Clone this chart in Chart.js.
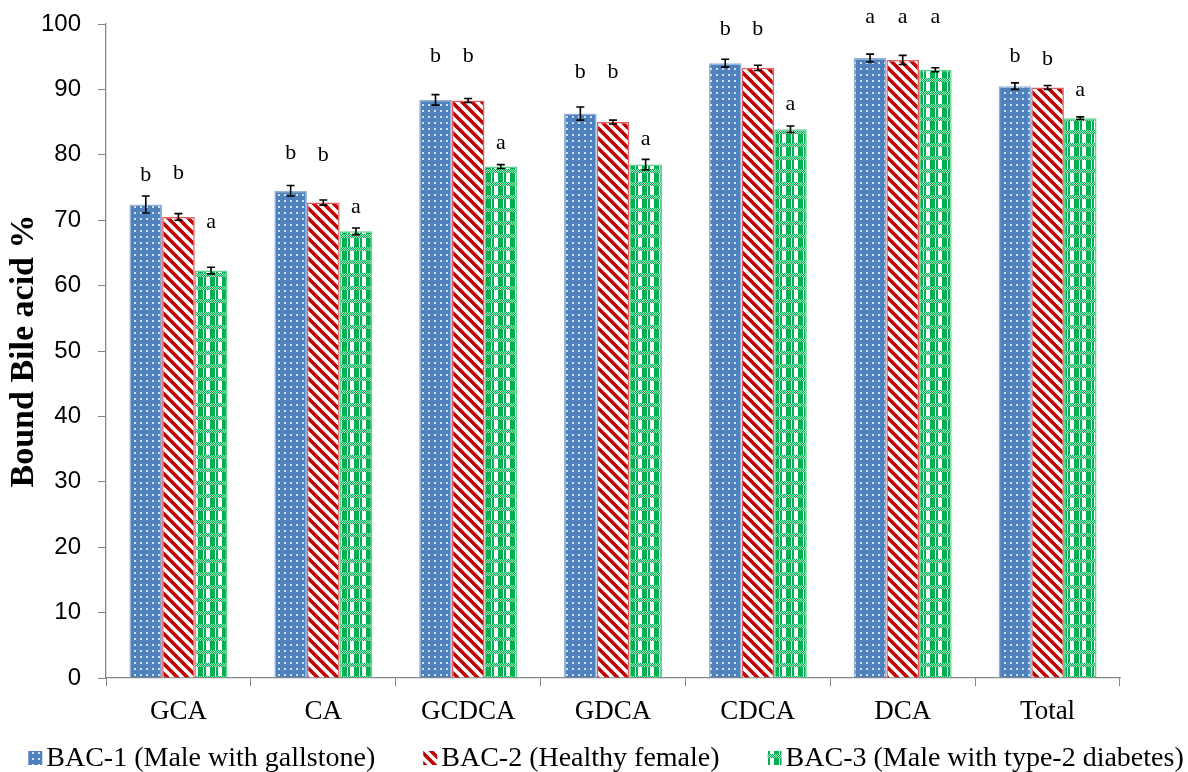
<!DOCTYPE html>
<html>
<head>
<meta charset="utf-8">
<script src="https://cdn.jsdelivr.net/npm/chart.js@4.4.0/dist/chart.umd.min.js"></script>
<style>
  html, body { margin: 0; padding: 0; background: #fff; }
  #wrap { width: 1188px; height: 772px; position: relative; }
</style>
</head>
<body>
<div id="wrap"><canvas id="myChart" width="1188" height="772"></canvas></div>
<script>
// categories and series
var categories = ['GCA', 'CA', 'GCDCA', 'GDCA', 'CDCA', 'DCA', 'Total'];
var seriesNames = ['BAC-1 (Male with gallstone)', 'BAC-2 (Healthy female)', 'BAC-3 (Male with type-2 diabetes)'];
var bac1 = [72.4, 74.5, 88.4, 86.3, 94.0, 94.8, 90.5];
var bac2 = [70.5, 72.7, 88.3, 85.0, 93.3, 94.5, 90.3];
var bac3 = [62.3, 68.3, 78.2, 78.5, 83.9, 93.0, 85.6];
// error bars (+/-)
var err1 = [1.3, 0.8, 0.8, 1.0, 0.6, 0.6, 0.5];
var err2 = [0.5, 0.4, 0.3, 0.3, 0.4, 0.7, 0.3];
var err3 = [0.5, 0.5, 0.3, 0.8, 0.5, 0.3, 0.2];
// significance letters and the height they sit at
var sig1 = ['b', 'b', 'b', 'b', 'b', 'a', 'b'];
var sig2 = ['b', 'b', 'b', 'b', 'b', 'a', 'b'];
var sig3 = ['a', 'a', 'a', 'a', 'a', 'a', 'a'];
var sigAt1 = [76.9, 80.3, 95.0, 92.7, 99.2, 101.1, 95.1];
var sigAt2 = [77.2, 80.0, 95.0, 92.7, 99.2, 101.1, 94.6];
var sigAt3 = [69.7, 72.0, 81.8, 82.4, 87.8, 101.1, 89.9];
var yTicks = [0, 10, 20, 30, 40, 50, 60, 70, 80, 90, 100];

var serif = '"Liberation Serif", "Times New Roman", serif';
var sans = '"Liberation Sans", Arial, sans-serif';

function makeTile(w, h, draw) {
  var c = document.createElement('canvas');
  c.width = w; c.height = h;
  draw(c.getContext('2d'));
  return c.getContext('2d').createPattern(c, 'repeat');
}

// blue with small light dots
var bluePat = makeTile(6, 6, function (g) {
  g.fillStyle = '#4f81bd'; g.fillRect(0, 0, 6, 6);
  g.fillStyle = 'rgba(225,235,248,0.9)'; g.fillRect(2, 2, 2, 2);
});
// white with red "\" stripes
var redPat = makeTile(10, 10, function (g) {
  g.fillStyle = '#ffffff'; g.fillRect(0, 0, 10, 10);
  g.strokeStyle = '#c00000'; g.lineWidth = 3.6;
  g.beginPath();
  g.moveTo(-5, -5); g.lineTo(15, 15);
  g.moveTo(-5, 5); g.lineTo(5, 15);
  g.moveTo(5, -5); g.lineTo(15, 5);
  g.stroke();
});
// green plaid: fine checker band, then white and green blocks
var greenPat = makeTile(12, 13, function (g) {
  g.fillStyle = '#ffffff'; g.fillRect(0, 0, 12, 13);
  g.fillStyle = 'rgba(0,176,80,0.35)';
  g.fillRect(0, 0, 12, 4);
  g.fillStyle = '#00b050';
  for (var y = 0; y < 4; y++) for (var x = 0; x < 12; x++) if ((x + y) % 2 === 0) g.fillRect(x, y, 1, 1);
  g.fillRect(0, 4, 2, 9);
  g.fillRect(6, 4, 5, 9);
});

var errs = [err1, err2, err3];
var sigs = [sig1, sig2, sig3];
var sigAt = [sigAt1, sigAt2, sigAt3];

var extras = {
  id: 'extras',
  afterDatasetsDraw: function (chart) {
    var ctx = chart.ctx, ys = chart.scales.y;
    ctx.save();
    chart.data.datasets.forEach(function (ds, i) {
      var meta = chart.getDatasetMeta(i);
      meta.data.forEach(function (bar, j) {
        var v = ds.data[j], e = errs[i][j];
        var t = ys.getPixelForValue(v + e), b = ys.getPixelForValue(v - e);
        ctx.strokeStyle = '#000'; ctx.lineWidth = 1.6;
        ctx.beginPath();
        ctx.moveTo(bar.x, t); ctx.lineTo(bar.x, b);
        ctx.moveTo(bar.x - 4, t); ctx.lineTo(bar.x + 4, t);
        ctx.moveTo(bar.x - 4, b); ctx.lineTo(bar.x + 4, b);
        ctx.stroke();
        ctx.fillStyle = '#000';
        ctx.font = '22px ' + serif;
        ctx.textAlign = 'center'; ctx.textBaseline = 'middle';
        ctx.fillText(sigs[i][j], bar.x, ys.getPixelForValue(sigAt[i][j]));
      });
    });
    ctx.restore();
  },
  afterDraw: function (chart) {
    // legend along the bottom
    var ctx = chart.ctx;
    ctx.save();
    ctx.font = '28px ' + serif;
    var box = 14, gapText = 4, gapItem = 48;
    var widths = seriesNames.map(function (s) { return box + gapText + ctx.measureText(s).width; });
    var total = widths.reduce(function (a, b) { return a + b; }, 0) + gapItem * 2;
    var x = 606 - total / 2, yc = 758;
    chart.data.datasets.forEach(function (ds, i) {
      ctx.fillStyle = ds.backgroundColor;
      ctx.fillRect(x, yc - box / 2, box, box);
      ctx.fillStyle = '#000';
      ctx.textAlign = 'left'; ctx.textBaseline = 'middle';
      ctx.fillText(seriesNames[i], x + box + gapText, yc + 1);
      x += widths[i] + gapItem;
    });
    ctx.restore();
  }
};

var ctx = document.getElementById('myChart');
var myChart = new Chart(ctx, {
  type: 'bar',
  data: {
    labels: categories,
    datasets: [
      { label: seriesNames[0], data: bac1, backgroundColor: bluePat, borderColor: '#95b3d7', borderWidth: 1.5 },
      { label: seriesNames[1], data: bac2, backgroundColor: redPat, borderColor: '#e06060', borderWidth: 1.5 },
      { label: seriesNames[2], data: bac3, backgroundColor: greenPat, borderColor: '#5fd08f', borderWidth: 1.5 }
    ]
  },
  options: {
    responsive: false,
    animation: false,
    layout: { padding: { top: 24, right: 68, bottom: 48, left: 0 } },
    datasets: { bar: { categoryPercentage: 0.676, barPercentage: 1.0 } },
    plugins: { legend: { display: false }, tooltip: { enabled: false } },
    scales: {
      x: {
        grid: { offset: true, drawOnChartArea: false, drawTicks: true, tickLength: 8, color: '#868686' },
        border: { color: '#868686', width: 1.3 },
        ticks: { color: '#000', font: { family: serif, size: 27 }, padding: 10 },
        afterFit: function (s) { s.height = 772 - 48 - 678; s.paddingLeft = 0; s.paddingRight = 0; }
      },
      y: {
        min: 0, max: 100,
        afterBuildTicks: function (s) { s.ticks = yTicks.map(function (v) { return { value: v }; }); },
        grid: { drawOnChartArea: false, drawTicks: true, tickLength: 8, color: '#868686' },
        border: { color: '#868686', width: 1.3 },
        ticks: { color: '#000', font: { family: sans, size: 24 }, padding: 17 },
        title: { display: true, text: 'Bound Bile acid %', color: '#000', font: { family: serif, size: 34, weight: 'bold' }, padding: { top: 4, bottom: 0 } },
        afterFit: function (s) { s.width = 106; s.paddingTop = 0; s.paddingBottom = 0; }
      }
    }
  },
  plugins: [extras]
});
</script>
</body>
</html>
